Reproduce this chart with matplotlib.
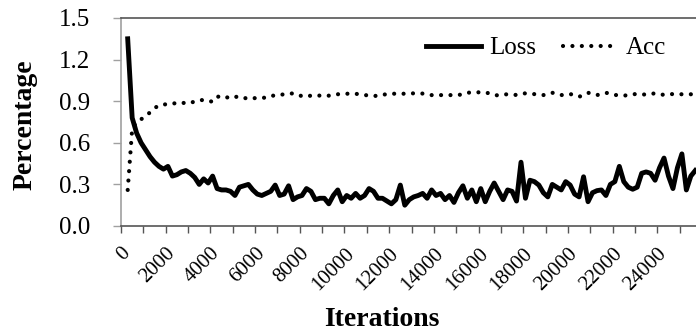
import matplotlib
matplotlib.use("Agg")
import matplotlib.pyplot as plt
import numpy as np

iterations = list(range(300, 25800, 200))

loss = [1.35, 0.78, 0.67, 0.60, 0.55, 0.50, 0.46, 0.43, 0.41, 0.43,
        0.36, 0.37, 0.39, 0.40, 0.38, 0.35, 0.30, 0.34, 0.31, 0.36,
        0.27, 0.26, 0.26, 0.25, 0.22, 0.28, 0.29, 0.30, 0.26, 0.23,
        0.22, 0.235, 0.25, 0.295, 0.22, 0.23, 0.29, 0.19, 0.21, 0.22,
        0.27, 0.25, 0.19, 0.20, 0.20, 0.16, 0.22, 0.26, 0.175, 0.22,
        0.20, 0.235, 0.20, 0.22, 0.27, 0.25, 0.20, 0.20, 0.18, 0.16,
        0.19, 0.295, 0.15, 0.19, 0.21, 0.22, 0.235, 0.20, 0.26, 0.22,
        0.235, 0.19, 0.22, 0.17, 0.24, 0.29, 0.20, 0.26, 0.175, 0.27,
        0.175, 0.25, 0.31, 0.25, 0.19, 0.26, 0.25, 0.18, 0.46, 0.20,
        0.33, 0.32, 0.295, 0.24, 0.21, 0.30, 0.28, 0.26, 0.32, 0.295,
        0.23, 0.21, 0.355, 0.175, 0.24, 0.255, 0.26, 0.22, 0.30, 0.32,
        0.43, 0.32, 0.28, 0.265, 0.28, 0.38, 0.39, 0.38, 0.33, 0.42,
        0.49, 0.36, 0.27, 0.42, 0.52, 0.26, 0.36, 0.40]

acc = [0.26, 0.70, 0.75, 0.77, 0.79, 0.82, 0.85, 0.87, 0.877, 0.877,
       0.88, 0.89, 0.89, 0.885, 0.885, 0.90, 0.905, 0.91, 0.905, 0.895,
       0.93, 0.94, 0.93, 0.92, 0.93, 0.935, 0.925, 0.916, 0.92, 0.925,
       0.925, 0.925, 0.935, 0.944, 0.945, 0.95, 0.952, 0.957, 0.95, 0.935,
       0.935, 0.94, 0.944, 0.94, 0.937, 0.94, 0.947, 0.95, 0.954, 0.954,
       0.954, 0.954, 0.948, 0.945, 0.94, 0.937, 0.94, 0.947, 0.95, 0.954,
       0.954, 0.954, 0.954, 0.954, 0.957, 0.957, 0.955, 0.948, 0.944, 0.944,
       0.944, 0.944, 0.944, 0.944, 0.944, 0.952, 0.961, 0.963, 0.964, 0.964,
       0.964, 0.955, 0.944, 0.942, 0.948, 0.95, 0.947, 0.945, 0.952, 0.957,
       0.954, 0.951, 0.947, 0.944, 0.953, 0.961, 0.952, 0.944, 0.948, 0.952,
       0.942, 0.932, 0.945, 0.961, 0.952, 0.944, 0.952, 0.961, 0.953, 0.945,
       0.943, 0.94, 0.944, 0.95, 0.952, 0.95, 0.947, 0.952, 0.957, 0.952,
       0.945, 0.948, 0.952, 0.951, 0.95, 0.95, 0.95, 0.95]

x_ticks = list(range(0, 26001, 1000))
x_tick_labels = [str(t) if (t % 2000 == 0 and t <= 24000) else "" for t in x_ticks]
y_ticks = [0.0, 0.3, 0.6, 0.9, 1.2, 1.5]
y_tick_labels = ["0.0", "0.3", "0.6", "0.9", "1.2", "1.5"]

plt.rcParams['font.family'] = ['Liberation Serif', 'DejaVu Serif']

W, H = 696, 334
fig = plt.figure(figsize=(W / 100, H / 100), dpi=100)
left_px, right_px, top_px, bottom_px = 121, 702, 18, 226
ax = fig.add_axes([left_px / W, 1 - bottom_px / H,
                   (right_px - left_px) / W, (bottom_px - top_px) / H])

ax.plot(iterations, loss, color='black', lw=3.5, solid_joinstyle='round',
        label='Loss')
ax.plot(iterations, acc, color='black', lw=3.0, linestyle=(0, (0.01, 2.25)),
        dash_capstyle='round', label='Acc')

ax.set_xlim(0, 26000)
ax.set_ylim(0, 1.5)
ax.set_xticks(x_ticks)
ax.set_xticklabels(x_tick_labels, rotation=45, ha='right', va='top',
                   rotation_mode='anchor', fontsize=15)
ax.set_yticks(y_ticks)
ax.set_yticklabels(y_tick_labels, fontsize=18)

ax.tick_params(axis='y', direction='out', length=6, width=1, color='#a0a0a0',
               pad=16)
ax.tick_params(axis='x', direction='out', length=5, width=1, color='#555555',
               pad=8)

ax.spines['left'].set_color('#a0a0a0')
ax.spines['bottom'].set_color('#555555')
ax.spines['top'].set_color('#555555')
ax.spines['right'].set_visible(False)
for s in ax.spines.values():
    s.set_linewidth(1.2)

ax.set_ylabel('Percentage', fontsize=20, fontweight='bold', va='center')
ax.yaxis.set_label_coords((25 - left_px) / (right_px - left_px),
                          (bottom_px - 125) / (bottom_px - top_px))
ax.set_xlabel('Iterations', fontsize=20, fontweight='bold', va='center')
ax.xaxis.set_label_coords((382 - left_px) / (right_px - left_px),
                          (bottom_px - 319) / (bottom_px - top_px))

ax.legend(loc='center right', bbox_to_anchor=(666 / W, 1 - 48 / H),
          bbox_transform=fig.transFigure, frameon=False, ncol=2,
          fontsize=18, handlelength=2.2, handletextpad=0.3,
          columnspacing=1.1, borderpad=0, borderaxespad=0)

fig.savefig('out.png', dpi=100)
